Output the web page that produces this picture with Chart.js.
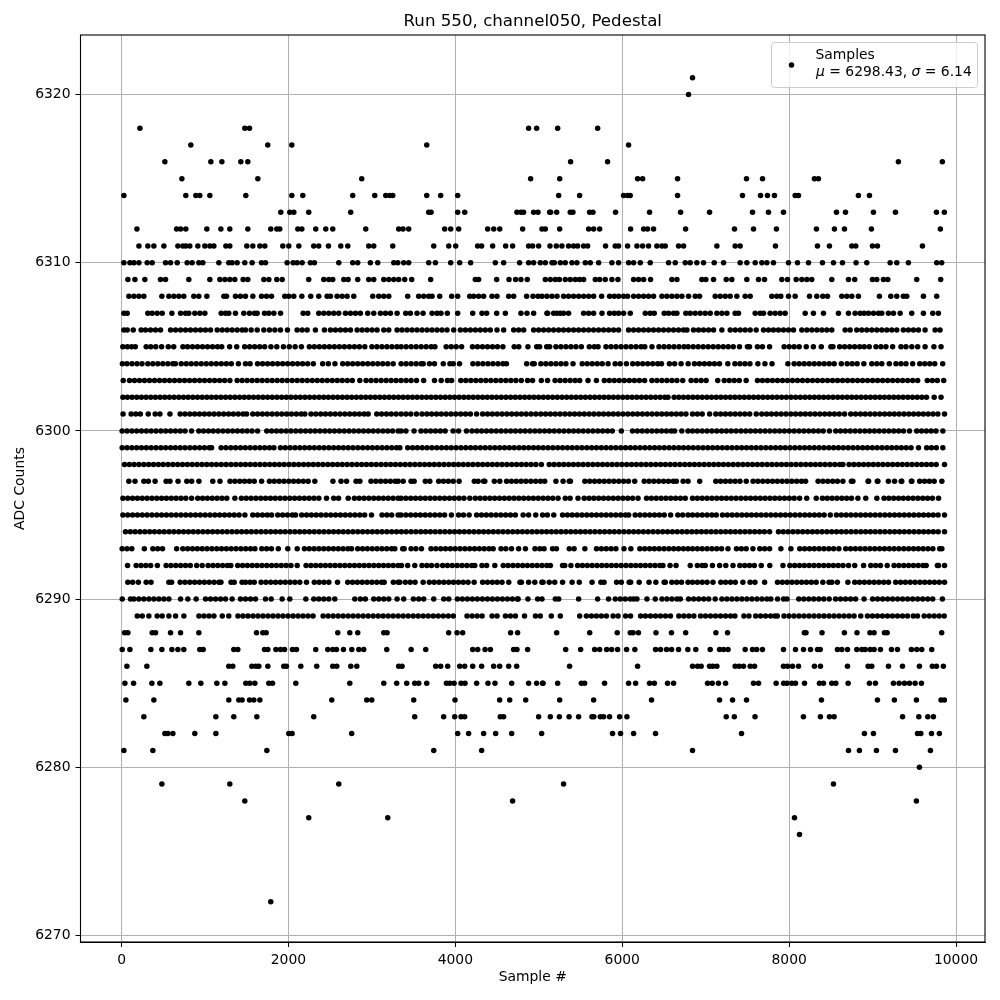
<!DOCTYPE html>
<html>
<head>
<meta charset="utf-8">
<title>Run 550, channel050, Pedestal</title>
<script src="https://cdn.jsdelivr.net/npm/chart.js@4/dist/chart.umd.min.js"></script>
<style>
  html, body { margin: 0; padding: 0; background: #fff; }
  canvas { display: block; }
</style>
</head>
<body>
<canvas id="chart" width="1000" height="1000"></canvas>
<script>
// --- Sample numbers, one list per ADC count level ---
const adc6321 = [6842];
const adc6320 = [6794];
const adc6318 = [220, 1477, 1533, 4878, 4974, 5226, 5705];
const adc6317 = [830, 1752, 2040, 3657, 6076];
const adc6316 = [519, 1070, 1202, 1429, 1513, 5381, 5824, 9309, 9836];
const adc6315 = [723, 1633, 2878, 4902, 5250, 6184, 6244, 6663, 7489, 7681, 8303, 8351];
const adc6314 = [28, 770, 890, 938, 1058, 1489, 2040, 2172, 2770, 3034, 3166, 3214, 3250, 3657, 3824, 4028, 5238, 5489, 6016, 6064, 6096, 6663, 7441, 7657, 7740, 7824, 8072, 8112, 8830, 8962];
const adc6313 = [1908, 2016, 2064, 2243, 2746, 3681, 3709, 4028, 4112, 4738, 4786, 4818, 4938, 4990, 5130, 5142, 5214, 5377, 5409, 5609, 5649, 5920, 6327, 6699, 7046, 7561, 7752, 7932, 8567, 8675, 9010, 9274, 9765, 9860];
const adc6312 = [184, 659, 707, 770, 1022, 1190, 1297, 1513, 1788, 1860, 1896, 2112, 2160, 2327, 2447, 2531, 2926, 3321, 3373, 3441, 3872, 3944, 4040, 4387, 4460, 4532, 4806, 5038, 5078, 5250, 5597, 5657, 5729, 6100, 6256, 6303, 6375, 6759, 7345, 7573, 7848, 8327, 8543, 8663, 8986, 9812];
const adc6311 = [208, 315, 387, 507, 675, 735, 770, 818, 914, 998, 1058, 1106, 1250, 1297, 1501, 1573, 1657, 1717, 1932, 2004, 2124, 2303, 2363, 2479, 2627, 2711, 2962, 3022, 3250, 3741, 3921, 4004, 4267, 4315, 4447, 4603, 4686, 4878, 4926, 4998, 5134, 5210, 5277, 5357, 5417, 5465, 5537, 5585, 5800, 5916, 5956, 6064, 6176, 6244, 6315, 6415, 6475, 6515, 6675, 6735, 7134, 7353, 7413, 7836, 8339, 8483, 8751, 8798, 8998, 9058, 9597];
const adc6310 = [28, 100, 148, 208, 307, 367, 527, 587, 667, 786, 846, 926, 974, 1166, 1285, 1325, 1385, 1477, 1565, 1677, 1725, 1984, 2056, 2104, 2164, 2263, 2311, 2603, 2770, 2830, 2982, 3070, 3262, 3310, 3381, 3441, 3681, 3761, 3944, 4052, 4183, 4479, 4579, 4770, 4878, 4938, 5018, 5078, 5158, 5186, 5258, 5317, 5397, 5457, 5557, 5617, 5717, 5876, 5956, 6076, 6136, 6216, 6335, 6555, 6635, 6755, 6814, 6894, 6974, 7102, 7214, 7413, 7493, 7593, 7673, 7733, 7812, 7992, 8100, 8232, 8399, 8531, 8639, 8802, 8930, 9210, 9290, 9429, 9768, 9828];
const adc6309 = [76, 160, 279, 467, 527, 806, 1058, 1178, 1238, 1297, 1357, 1457, 1513, 1705, 1765, 1860, 1925, 2243, 2423, 2483, 2531, 2663, 2715, 2830, 2962, 3022, 3142, 3202, 3262, 3321, 3393, 3477, 3704, 4239, 4279, 4495, 4643, 4722, 4786, 4862, 5078, 5138, 5198, 5246, 5317, 5377, 5437, 5489, 5537, 5677, 5729, 5796, 5876, 5948, 6136, 6196, 6256, 6339, 6595, 6655, 6954, 7002, 7094, 7246, 7313, 7493, 7633, 7705, 7912, 7980, 8084, 8152, 8212, 8271, 8511, 8711, 8786, 8998, 9050, 9130, 9182, 9529, 9816];
const adc6308 = [88, 148, 208, 267, 483, 567, 627, 687, 746, 866, 926, 1022, 1226, 1258, 1365, 1425, 1485, 1573, 1677, 1737, 1797, 1956, 2004, 2064, 2160, 2267, 2363, 2463, 2503, 2583, 2643, 2703, 2783, 3010, 3082, 3142, 3202, 3429, 3561, 3621, 3681, 3721, 3812, 3956, 4028, 4172, 4220, 4279, 4339, 4439, 4499, 4639, 4699, 4854, 4930, 4990, 5038, 5098, 5158, 5218, 5297, 5357, 5417, 5477, 5537, 5597, 5657, 5753, 5848, 5904, 5956, 6016, 6064, 6136, 6196, 6256, 6315, 6375, 6475, 6535, 6595, 6655, 6715, 6794, 6874, 6926, 7114, 7174, 7234, 7293, 7373, 7473, 7533, 7792, 7852, 7900, 7992, 8072, 8244, 8331, 8403, 8459, 8631, 8691, 8751, 8830, 9082, 9218, 9290, 9369, 9409, 9609, 9768];
const adc6307 = [28, 68, 315, 367, 427, 487, 603, 707, 767, 806, 878, 938, 998, 1194, 1246, 1285, 1365, 1465, 1533, 1593, 1625, 1713, 1765, 1825, 1905, 2176, 2231, 2363, 2423, 2483, 2543, 2603, 2683, 2743, 2803, 2862, 2950, 3022, 3102, 3162, 3222, 3302, 3405, 3461, 3541, 3613, 3721, 3780, 3828, 3904, 4028, 4208, 4319, 4375, 4495, 4599, 4786, 4858, 4938, 5098, 5106, 5178, 5218, 5258, 5297, 5357, 5537, 5597, 5657, 5757, 5848, 5904, 5956, 6016, 6096, 6276, 6335, 6383, 6503, 6555, 6615, 6655, 6762, 6814, 6874, 6934, 6994, 7054, 7134, 7194, 7254, 7353, 7393, 7593, 7653, 7693, 7772, 7832, 7892, 7952, 8192, 8291, 8411, 8591, 8711, 8790, 8850, 8898, 8950, 9010, 9070, 9110, 9190, 9250, 9330, 9469, 9609, 9721, 9788];
const adc6306 = [28, 68, 140, 235, 287, 347, 407, 467, 587, 647, 707, 767, 826, 886, 946, 1006, 1066, 1146, 1206, 1266, 1325, 1385, 1445, 1485, 1553, 1625, 1705, 1773, 1837, 1904, 1988, 2104, 2164, 2224, 2323, 2431, 2503, 2563, 2623, 2683, 2743, 2823, 2883, 2942, 3002, 3062, 3142, 3202, 3302, 3361, 3421, 3481, 3541, 3601, 3661, 3720, 3780, 3840, 3900, 3980, 4060, 4120, 4180, 4240, 4299, 4359, 4419, 4499, 4579, 4699, 4759, 4819, 4938, 4998, 5058, 5118, 5178, 5238, 5297, 5357, 5417, 5477, 5537, 5597, 5657, 5717, 5777, 5837, 5897, 5956, 6076, 6136, 6196, 6256, 6315, 6375, 6435, 6495, 6555, 6615, 6675, 6735, 6775, 6854, 6914, 6974, 7034, 7094, 7194, 7294, 7354, 7413, 7473, 7533, 7605, 7693, 7753, 7812, 7872, 7932, 7992, 8052, 8152, 8212, 8272, 8332, 8392, 8451, 8511, 8671, 8731, 8810, 8870, 8930, 8990, 9050, 9110, 9170, 9230, 9290, 9369, 9429, 9489, 9549, 9629, 9749, 9808];
const adc6305 = [15, 70, 120, 165, 295, 350, 410, 480, 560, 625, 735, 790, 850, 910, 970, 1030, 1090, 1150, 1200, 1295, 1380, 1475, 1535, 1595, 1655, 1715, 1790, 1860, 1940, 2010, 2080, 2155, 2250, 2310, 2370, 2430, 2490, 2550, 2610, 2670, 2730, 2790, 2850, 2915, 3000, 3060, 3120, 3180, 3240, 3300, 3350, 3410, 3470, 3530, 3590, 3650, 3710, 3755, 3890, 3950, 4010, 4075, 4205, 4265, 4325, 4385, 4445, 4505, 4570, 4705, 4760, 4870, 4975, 5010, 5095, 5130, 5205, 5265, 5325, 5385, 5445, 5510, 5605, 5665, 5710, 5805, 5865, 5925, 5985, 6045, 6105, 6165, 6225, 6270, 6356, 6440, 6500, 6560, 6620, 6680, 6740, 6790, 6850, 6910, 6970, 7030, 7090, 7150, 7210, 7270, 7330, 7405, 7500, 7525, 7620, 7680, 7765, 7940, 8000, 8060, 8120, 8205, 8290, 8385, 8500, 8525, 8605, 8665, 8725, 8785, 8845, 8900, 8960, 9040, 9100, 9160, 9240, 9340, 9400, 9470, 9540, 9629, 9735, 9820];
const adc6304 = [10, 65, 125, 185, 245, 315, 375, 435, 495, 555, 615, 645, 715, 775, 835, 895, 955, 1015, 1075, 1135, 1195, 1255, 1315, 1400, 1485, 1540, 1630, 1690, 1750, 1810, 1870, 1930, 1990, 2050, 2110, 2170, 2230, 2298, 2410, 2478, 2557, 2650, 2710, 2770, 2830, 2890, 2950, 3010, 3070, 3130, 3190, 3255, 3350, 3410, 3470, 3530, 3590, 3615, 3690, 3750, 3855, 3935, 3975, 4050, 4210, 4270, 4330, 4390, 4450, 4510, 4570, 4612, 4855, 4925, 4945, 5025, 5085, 5145, 5205, 5265, 5325, 5410, 5520, 5580, 5640, 5700, 5760, 5830, 5915, 5975, 6050, 6125, 6185, 6245, 6305, 6365, 6425, 6470, 6565, 6628, 6705, 6790, 6865, 6925, 6985, 7045, 7105, 7165, 7265, 7350, 7410, 7470, 7530, 7625, 7710, 7795, 7985, 8060, 8120, 8180, 8240, 8300, 8360, 8420, 8480, 8540, 8625, 8695, 8755, 8815, 8895, 8990, 9050, 9110, 9200, 9280, 9340, 9400, 9480, 9565, 9625, 9685, 9745, 9840];
const adc6303 = [20, 95, 155, 215, 275, 335, 395, 455, 515, 575, 635, 695, 755, 815, 875, 935, 995, 1055, 1115, 1175, 1235, 1298, 1385, 1445, 1505, 1565, 1625, 1685, 1745, 1805, 1865, 1925, 1985, 2045, 2105, 2165, 2225, 2285, 2345, 2405, 2465, 2525, 2585, 2645, 2705, 2765, 2855, 2930, 2990, 3050, 3110, 3170, 3230, 3290, 3350, 3410, 3470, 3535, 3620, 3750, 3830, 3905, 3955, 4065, 4125, 4185, 4245, 4305, 4365, 4425, 4485, 4545, 4605, 4665, 4725, 4790, 4865, 4925, 5030, 5105, 5195, 5255, 5315, 5375, 5435, 5490, 5590, 5690, 5785, 5845, 5905, 5965, 6025, 6085, 6145, 6205, 6268, 6355, 6415, 6475, 6535, 6595, 6655, 6725, 6825, 6885, 6945, 7005, 7144, 7222, 7282, 7342, 7402, 7485, 7620, 7680, 7740, 7800, 7860, 7920, 7980, 8040, 8100, 8160, 8220, 8280, 8340, 8400, 8460, 8520, 8580, 8640, 8700, 8760, 8820, 8880, 8940, 9000, 9060, 9120, 9180, 9240, 9300, 9360, 9420, 9480, 9540, 9656, 9716, 9776, 9852];
const adc6302 = [16, 70, 126, 182, 238, 294, 350, 406, 462, 518, 574, 630, 686, 742, 798, 854, 910, 966, 1022, 1078, 1134, 1190, 1246, 1302, 1358, 1414, 1470, 1526, 1582, 1638, 1694, 1750, 1806, 1862, 1918, 1974, 2030, 2086, 2142, 2198, 2254, 2310, 2366, 2422, 2478, 2534, 2590, 2646, 2702, 2758, 2814, 2870, 2926, 2982, 3038, 3094, 3150, 3206, 3262, 3318, 3374, 3430, 3486, 3542, 3598, 3654, 3710, 3766, 3822, 3878, 3934, 3990, 4046, 4102, 4158, 4214, 4270, 4326, 4382, 4438, 4494, 4550, 4606, 4662, 4718, 4774, 4830, 4886, 4942, 4998, 5054, 5110, 5166, 5222, 5278, 5334, 5390, 5446, 5502, 5558, 5614, 5670, 5726, 5782, 5838, 5894, 5950, 6006, 6062, 6118, 6174, 6230, 6286, 6342, 6398, 6454, 6510, 6548, 6622, 6678, 6734, 6790, 6846, 6902, 6958, 7014, 7070, 7126, 7182, 7238, 7294, 7350, 7406, 7462, 7518, 7574, 7630, 7686, 7742, 7798, 7854, 7910, 7966, 8022, 8078, 8134, 8190, 8246, 8302, 8358, 8414, 8470, 8526, 8582, 8638, 8694, 8750, 8806, 8862, 8918, 8974, 9030, 9086, 9142, 9198, 9254, 9310, 9366, 9422, 9478, 9534, 9590, 9646, 9738, 9820];
const adc6301 = [18, 115, 170, 225, 320, 403, 460, 580, 702, 760, 818, 876, 934, 992, 1050, 1108, 1166, 1224, 1282, 1340, 1398, 1456, 1498, 1572, 1630, 1688, 1746, 1804, 1862, 1920, 1978, 2036, 2094, 2152, 2196, 2270, 2328, 2386, 2444, 2502, 2560, 2618, 2676, 2734, 2792, 2850, 2908, 2955, 3058, 3116, 3174, 3232, 3290, 3350, 3408, 3466, 3534, 3600, 3658, 3716, 3774, 3832, 3890, 3948, 4006, 4064, 4122, 4180, 4255, 4327, 4385, 4443, 4501, 4559, 4617, 4675, 4733, 4791, 4849, 4907, 4965, 5023, 5081, 5139, 5197, 5255, 5313, 5371, 5429, 5487, 5545, 5603, 5661, 5719, 5777, 5835, 5893, 5951, 6009, 6067, 6125, 6183, 6241, 6299, 6357, 6415, 6473, 6531, 6589, 6647, 6705, 6763, 6842, 6900, 6958, 7047, 7121, 7179, 7237, 7295, 7353, 7411, 7469, 7527, 7606, 7672, 7730, 7788, 7846, 7904, 7962, 8020, 8078, 8136, 8194, 8252, 8310, 8368, 8426, 8484, 8542, 8600, 8664, 8738, 8796, 8854, 8912, 8970, 9028, 9086, 9144, 9202, 9260, 9318, 9376, 9434, 9492, 9550, 9608, 9666, 9724, 9782, 9862];
const adc6300 = [7, 65, 123, 181, 239, 297, 355, 413, 471, 529, 587, 645, 703, 761, 839, 925, 983, 1041, 1099, 1157, 1215, 1273, 1331, 1389, 1447, 1505, 1563, 1630, 1740, 1798, 1856, 1914, 1972, 2030, 2088, 2146, 2204, 2262, 2320, 2378, 2436, 2494, 2552, 2610, 2668, 2726, 2784, 2842, 2900, 2958, 3016, 3074, 3132, 3190, 3248, 3314, 3350, 3408, 3505, 3588, 3646, 3704, 3762, 3820, 3878, 3973, 4039, 4133, 4199, 4257, 4315, 4373, 4431, 4489, 4547, 4605, 4663, 4721, 4779, 4837, 4895, 4953, 5011, 5069, 5127, 5185, 5243, 5301, 5359, 5417, 5475, 5533, 5591, 5649, 5707, 5765, 5823, 5881, 5989, 6123, 6181, 6239, 6297, 6355, 6413, 6471, 6529, 6587, 6628, 6714, 6788, 6842, 6900, 6958, 7016, 7074, 7132, 7190, 7248, 7306, 7364, 7422, 7480, 7538, 7596, 7654, 7712, 7770, 7828, 7886, 7944, 8002, 8060, 8118, 8176, 8234, 8292, 8350, 8408, 8483, 8558, 8616, 8674, 8732, 8790, 8848, 8906, 8964, 9022, 9080, 9138, 9196, 9254, 9312, 9370, 9442, 9528, 9586, 9644, 9702, 9760, 9842];
const adc6299 = [7, 65, 123, 181, 239, 297, 355, 413, 471, 529, 587, 645, 703, 761, 819, 877, 935, 993, 1051, 1079, 1193, 1251, 1309, 1367, 1425, 1483, 1541, 1599, 1657, 1715, 1773, 1826, 1904, 1962, 2020, 2078, 2136, 2194, 2252, 2310, 2368, 2426, 2484, 2542, 2600, 2658, 2716, 2774, 2832, 2890, 2948, 3006, 3064, 3122, 3180, 3238, 3296, 3335, 3429, 3487, 3545, 3603, 3661, 3719, 3777, 3835, 3893, 3951, 4009, 4067, 4125, 4183, 4241, 4299, 4357, 4415, 4473, 4531, 4589, 4647, 4705, 4763, 4821, 4879, 4937, 4995, 5053, 5111, 5169, 5227, 5285, 5343, 5401, 5459, 5517, 5575, 5633, 5691, 5749, 5807, 5865, 5923, 5981, 6039, 6097, 6155, 6213, 6271, 6329, 6387, 6445, 6503, 6561, 6619, 6677, 6735, 6793, 6851, 6909, 6967, 7025, 7083, 7141, 7199, 7257, 7315, 7373, 7431, 7489, 7547, 7605, 7663, 7721, 7779, 7837, 7895, 7953, 8011, 8069, 8127, 8185, 8243, 8301, 8359, 8417, 8475, 8533, 8591, 8649, 8707, 8765, 8823, 8881, 8939, 8997, 9055, 9113, 9171, 9229, 9287, 9345, 9403, 9461, 9550, 9648, 9706, 9764, 9842];
const adc6298 = [35, 93, 151, 209, 267, 325, 383, 441, 499, 557, 615, 673, 731, 789, 847, 905, 963, 1021, 1079, 1137, 1195, 1253, 1311, 1369, 1427, 1485, 1543, 1601, 1659, 1717, 1775, 1833, 1891, 1949, 2007, 2065, 2123, 2181, 2239, 2297, 2355, 2413, 2471, 2529, 2587, 2645, 2703, 2761, 2819, 2877, 2935, 2993, 3051, 3109, 3167, 3225, 3283, 3341, 3399, 3457, 3515, 3573, 3631, 3689, 3747, 3805, 3863, 3921, 3979, 4037, 4095, 4153, 4211, 4269, 4327, 4385, 4443, 4501, 4559, 4617, 4675, 4733, 4791, 4849, 4907, 4965, 5031, 5125, 5183, 5241, 5299, 5357, 5415, 5473, 5531, 5589, 5647, 5705, 5763, 5821, 5879, 5937, 5995, 6053, 6111, 6169, 6227, 6285, 6343, 6401, 6459, 6517, 6575, 6633, 6691, 6749, 6807, 6865, 6923, 6981, 7039, 7097, 7155, 7213, 7271, 7329, 7387, 7445, 7503, 7561, 7619, 7677, 7735, 7793, 7851, 7909, 7967, 8025, 8083, 8141, 8199, 8257, 8315, 8373, 8431, 8489, 8547, 8605, 8644, 8718, 8776, 8834, 8892, 8950, 9008, 9066, 9124, 9182, 9240, 9298, 9356, 9414, 9472, 9530, 9588, 9646, 9704, 9762, 9862];
const adc6297 = [87, 161, 267, 321, 402, 534, 580, 677, 782, 840, 927, 1093, 1179, 1300, 1358, 1416, 1474, 1532, 1590, 1678, 1772, 1830, 1888, 1946, 2004, 2062, 2120, 2178, 2236, 2316, 2533, 2630, 2696, 2810, 2856, 2989, 3047, 3105, 3163, 3221, 3279, 3314, 3375, 3469, 3506, 3640, 3694, 3800, 3858, 3916, 3974, 4045, 4227, 4273, 4339, 4353, 4467, 4533, 4614, 4672, 4730, 4788, 4846, 4904, 4962, 5020, 5071, 5205, 5291, 5365, 5379, 5552, 5610, 5668, 5726, 5784, 5842, 5900, 5958, 6016, 6074, 6149, 6263, 6321, 6379, 6437, 6495, 6553, 6611, 6648, 6730, 6788, 6928, 7121, 7179, 7237, 7295, 7353, 7411, 7486, 7568, 7626, 7684, 7742, 7800, 7858, 7916, 7974, 8032, 8090, 8148, 8197, 8347, 8405, 8463, 8521, 8579, 8644, 8746, 8764, 8946, 8952, 9057, 9063, 9189, 9263, 9349, 9343, 9465, 9470, 9564, 9622, 9680, 9738, 9830];
const adc6296 = [16, 74, 132, 190, 248, 306, 364, 422, 480, 538, 596, 654, 712, 770, 839, 913, 971, 1029, 1087, 1145, 1203, 1261, 1358, 1436, 1494, 1552, 1610, 1668, 1726, 1784, 1842, 1900, 1958, 2016, 2074, 2132, 2190, 2248, 2306, 2364, 2456, 2542, 2600, 2716, 2790, 2848, 2906, 2964, 3022, 3080, 3138, 3196, 3254, 3314, 3349, 3407, 3465, 3523, 3581, 3639, 3697, 3755, 3813, 3871, 3929, 3987, 4045, 4103, 4173, 4239, 4297, 4355, 4413, 4471, 4529, 4587, 4645, 4703, 4761, 4819, 4877, 4935, 4993, 5051, 5109, 5167, 5231, 5317, 5375, 5470, 5544, 5602, 5660, 5718, 5776, 5834, 5892, 5950, 6008, 6066, 6124, 6189, 6291, 6349, 6407, 6465, 6523, 6581, 6639, 6697, 6755, 6842, 6900, 6958, 7016, 7074, 7132, 7190, 7248, 7306, 7364, 7422, 7480, 7538, 7596, 7654, 7712, 7770, 7828, 7886, 7944, 8002, 8060, 8125, 8211, 8325, 8399, 8457, 8515, 8573, 8631, 8689, 8747, 8824, 8918, 9051, 9137, 9195, 9253, 9311, 9369, 9427, 9485, 9543, 9601, 9659, 9717, 9790];
const adc6295 = [16, 74, 132, 190, 248, 306, 364, 422, 480, 538, 596, 654, 712, 770, 828, 886, 944, 1002, 1060, 1118, 1176, 1234, 1292, 1350, 1408, 1478, 1572, 1630, 1688, 1746, 1798, 1872, 1930, 1988, 2046, 2085, 2159, 2217, 2275, 2333, 2391, 2449, 2507, 2565, 2623, 2681, 2739, 2797, 2855, 2913, 2995, 3121, 3179, 3237, 3314, 3349, 3407, 3465, 3523, 3581, 3639, 3697, 3755, 3813, 3871, 3953, 4039, 4097, 4165, 4255, 4313, 4371, 4429, 4487, 4545, 4603, 4661, 4719, 4812, 4878, 4963, 5045, 5103, 5179, 5285, 5343, 5401, 5459, 5517, 5575, 5633, 5691, 5749, 5807, 5865, 5923, 5981, 6039, 6077, 6155, 6213, 6271, 6329, 6387, 6445, 6503, 6580, 6666, 6724, 6788, 6842, 6900, 6958, 7016, 7074, 7127, 7201, 7259, 7317, 7375, 7433, 7491, 7549, 7607, 7665, 7723, 7781, 7839, 7897, 7955, 8013, 8071, 8129, 8187, 8245, 8303, 8361, 8419, 8493, 8567, 8625, 8683, 8741, 8799, 8857, 8915, 8973, 9031, 9089, 9147, 9205, 9263, 9321, 9379, 9437, 9495, 9553, 9611, 9669, 9727, 9785, 9862];
const adc6294 = [47, 105, 163, 221, 279, 337, 395, 453, 511, 569, 627, 685, 743, 801, 859, 917, 975, 1033, 1091, 1149, 1207, 1265, 1323, 1381, 1439, 1497, 1555, 1613, 1671, 1729, 1787, 1845, 1903, 1961, 2019, 2077, 2135, 2193, 2251, 2309, 2367, 2425, 2483, 2541, 2599, 2657, 2715, 2773, 2831, 2889, 2947, 3005, 3063, 3121, 3179, 3237, 3295, 3353, 3411, 3469, 3527, 3585, 3643, 3701, 3759, 3817, 3875, 3933, 3991, 4049, 4107, 4165, 4223, 4281, 4339, 4397, 4455, 4513, 4571, 4629, 4687, 4745, 4803, 4861, 4919, 4977, 5035, 5093, 5151, 5209, 5267, 5325, 5383, 5441, 5499, 5557, 5615, 5673, 5731, 5789, 5847, 5905, 5963, 6021, 6079, 6137, 6195, 6253, 6311, 6369, 6427, 6485, 6543, 6601, 6659, 6717, 6775, 6833, 6891, 6949, 7007, 7065, 7123, 7181, 7239, 7297, 7355, 7413, 7471, 7529, 7587, 7645, 7703, 7766, 7872, 7930, 7988, 8046, 8104, 8162, 8220, 8278, 8336, 8394, 8452, 8510, 8568, 8626, 8684, 8742, 8800, 8858, 8916, 8974, 9032, 9090, 9148, 9206, 9264, 9322, 9380, 9438, 9496, 9554, 9612, 9670, 9728, 9786, 9862];
const adc6293 = [7, 65, 123, 273, 375, 433, 491, 660, 734, 792, 850, 908, 966, 1024, 1082, 1140, 1198, 1256, 1314, 1372, 1430, 1488, 1546, 1598, 1680, 1738, 1796, 1878, 1992, 2105, 2191, 2249, 2307, 2365, 2423, 2481, 2539, 2597, 2655, 2713, 2756, 2830, 2888, 2946, 3004, 3062, 3120, 3178, 3236, 3274, 3369, 3387, 3469, 3527, 3594, 3708, 3766, 3824, 3882, 3940, 3998, 4056, 4114, 4172, 4230, 4288, 4346, 4404, 4453, 4547, 4605, 4673, 4758, 4840, 4954, 5012, 5063, 5165, 5211, 5365, 5423, 5552, 5692, 5750, 5808, 5866, 5924, 6021, 6103, 6211, 6269, 6327, 6385, 6443, 6501, 6559, 6617, 6675, 6733, 6788, 6842, 6900, 6958, 7016, 7074, 7132, 7190, 7267, 7369, 7427, 7485, 7566, 7648, 7706, 7766, 7901, 8021, 8127, 8185, 8243, 8301, 8359, 8417, 8475, 8533, 8596, 8678, 8736, 8794, 8852, 8910, 8968, 9026, 9084, 9142, 9200, 9258, 9316, 9374, 9432, 9490, 9548, 9606, 9664, 9722, 9804, 9830];
const adc6292 = [72, 175, 233, 291, 349, 429, 534, 592, 650, 708, 766, 824, 900, 966, 1037, 1095, 1153, 1211, 1269, 1310, 1392, 1450, 1508, 1566, 1624, 1682, 1740, 1798, 1856, 1914, 1972, 2030, 2105, 2211, 2269, 2327, 2385, 2443, 2501, 2559, 2617, 2675, 2733, 2791, 2849, 2907, 2965, 3023, 3081, 3139, 3197, 3255, 3314, 3355, 3429, 3514, 3600, 3658, 3714, 3780, 3848, 3906, 3964, 4022, 4080, 4138, 4196, 4233, 4319, 4375, 4473, 4574, 4632, 4690, 4748, 4806, 4864, 4922, 4980, 5038, 5096, 5139, 5285, 5311, 5385, 5465, 5523, 5581, 5639, 5697, 5755, 5813, 5871, 5929, 5987, 6045, 6103, 6161, 6219, 6277, 6335, 6393, 6451, 6488, 6573, 6645, 6815, 6900, 6958, 6995, 7081, 7167, 7241, 7327, 7409, 7467, 7525, 7583, 7666, 7768, 7926, 8008, 8066, 8124, 8182, 8240, 8298, 8356, 8414, 8472, 8530, 8588, 8646, 8712, 8786, 8892, 8978, 9036, 9094, 9175, 9257, 9315, 9373, 9431, 9489, 9547, 9605, 9642, 9776, 9790, 9862];
const adc6291 = [75, 133, 201, 295, 353, 567, 600, 702, 760, 818, 876, 934, 992, 1050, 1108, 1166, 1191, 1312, 1350, 1444, 1486, 1540, 1590, 1672, 1730, 1788, 1846, 1904, 1962, 2020, 2078, 2136, 2216, 2310, 2368, 2426, 2484, 2588, 2710, 2768, 2826, 2884, 2942, 3000, 3058, 3116, 3147, 3257, 3315, 3335, 3401, 3459, 3517, 3614, 3688, 3746, 3804, 3862, 3920, 3978, 4036, 4094, 4152, 4225, 4327, 4385, 4443, 4501, 4559, 4640, 4774, 4792, 4878, 4952, 5037, 5051, 5125, 5191, 5285, 5399, 5485, 5638, 5744, 5782, 5932, 5989, 6083, 6101, 6203, 6321, 6403, 6502, 6516, 6594, 6652, 6710, 6788, 6842, 6900, 6958, 7016, 7087, 7181, 7239, 7297, 7355, 7446, 7532, 7590, 7706, 7860, 7918, 7976, 8034, 8092, 8150, 8208, 8266, 8324, 8404, 8478, 8512, 8578, 8704, 8786, 8844, 8902, 8960, 9018, 9076, 9134, 9191, 9277, 9335, 9393, 9451, 9509, 9567, 9625, 9683, 9741, 9799, 9862];
const adc6290 = [8, 107, 148, 207, 267, 327, 387, 447, 507, 567, 707, 794, 894, 1006, 1066, 1126, 1186, 1246, 1325, 1425, 1485, 1545, 1605, 1725, 1793, 1924, 2016, 2208, 2303, 2363, 2423, 2483, 2555, 2795, 2862, 2922, 3022, 3082, 3142, 3202, 3302, 3381, 3497, 3561, 3621, 3741, 3861, 3921, 4024, 4084, 4144, 4204, 4264, 4324, 4384, 4444, 4504, 4564, 4624, 4684, 4744, 4752, 4870, 4986, 5038, 5198, 5238, 5477, 5705, 5836, 5916, 5976, 6036, 6096, 6136, 6176, 6296, 6396, 6476, 6536, 6596, 6656, 6696, 6795, 6856, 6916, 6976, 7036, 7114, 7194, 7254, 7314, 7374, 7434, 7494, 7554, 7614, 7674, 7734, 7781, 7861, 7933, 7974, 8115, 8175, 8235, 8295, 8355, 8415, 8480, 8556, 8616, 8676, 8736, 8796, 8898, 9000, 9060, 9120, 9180, 9240, 9300, 9360, 9420, 9480, 9540, 9600, 9660, 9720, 9836];
const adc6289 = [188, 248, 327, 427, 487, 567, 647, 747, 927, 987, 1047, 1107, 1207, 1285, 1395, 1455, 1515, 1575, 1635, 1695, 1755, 1815, 1875, 1935, 1995, 2055, 2115, 2175, 2235, 2295, 2415, 2475, 2535, 2595, 2655, 2715, 2775, 2835, 2895, 2955, 3015, 3075, 3135, 3195, 3255, 3315, 3375, 3435, 3495, 3555, 3615, 3675, 3735, 3795, 3855, 3915, 3975, 4140, 4200, 4260, 4320, 4440, 4500, 4600, 4660, 4720, 4829, 4960, 5018, 5150, 5258, 5490, 5570, 5630, 5690, 5750, 5810, 5890, 5950, 6040, 6100, 6220, 6278, 6338, 6398, 6458, 6518, 6578, 6678, 6738, 6798, 6858, 6938, 6998, 7058, 7118, 7178, 7238, 7298, 7350, 7458, 7518, 7598, 7658, 7718, 7778, 7830, 7858, 7938, 7998, 8058, 8118, 8178, 8238, 8298, 8358, 8418, 8478, 8538, 8598, 8658, 8718, 8778, 8858, 8938, 8998, 9058, 9118, 9178, 9238, 9298, 9358, 9418, 9488, 9538, 9618, 9678, 9738, 9798, 9858];
const adc6288 = [36, 76, 367, 407, 587, 707, 926, 1617, 1693, 1733, 2591, 2735, 2830, 3142, 3182, 3920, 4020, 4088, 4662, 4746, 5214, 5610, 5940, 6096, 6130, 6194, 6404, 6590, 6760, 7122, 7262, 8182, 8202, 8394, 8662, 8813, 8968, 9018, 9142, 9175, 9828];
const adc6287 = [8, 100, 351, 483, 603, 675, 746, 938, 978, 1345, 1393, 1713, 1753, 1849, 1905, 1953, 2048, 2096, 2327, 2471, 2531, 2575, 2659, 2759, 2843, 2902, 3178, 3470, 3645, 4208, 4268, 4356, 4420, 4698, 4738, 4866, 5322, 5501, 5669, 5729, 5813, 5873, 5944, 6052, 6151, 6399, 6459, 6531, 6591, 6675, 6786, 6881, 7054, 7166, 7214, 7268, 7473, 7561, 7611, 7680, 7932, 8076, 8172, 8256, 8340, 8372, 8579, 8631, 8699, 8811, 8871, 8911, 8971, 9018, 9094, 9226, 9298, 9465, 9529, 9589, 9709];
const adc6286 = [64, 303, 1285, 1333, 1561, 1609, 1645, 1753, 1944, 1976, 2148, 2339, 2531, 2579, 2747, 2819, 3321, 3361, 3764, 3824, 3908, 4052, 4112, 4208, 4315, 4459, 4531, 4639, 4735, 5369, 6184, 6842, 6902, 6946, 7046, 7086, 7134, 7353, 7401, 7453, 7533, 7585, 7932, 7980, 8040, 8112, 8303, 8375, 8699, 8946, 8990, 9190, 9358, 9561, 9716, 9765, 9848];
const adc6285 = [40, 144, 363, 459, 806, 950, 1142, 1238, 1489, 1537, 1597, 1765, 1809, 2088, 2735, 3142, 3297, 3417, 3513, 3561, 3657, 3893, 3933, 3985, 4068, 4116, 4255, 4391, 4475, 4675, 4878, 4974, 5046, 5050, 5226, 5510, 5549, 5788, 6076, 6160, 6327, 6385, 6543, 6615, 7022, 7078, 7153, 7238, 7573, 7633, 7844, 7934, 7974, 8032, 8076, 8184, 8363, 8411, 8511, 8559, 8707, 8962, 9034, 9250, 9318, 9382, 9442, 9509, 9585];
const adc6284 = [52, 387, 1285, 1405, 1445, 1533, 1585, 1657, 2519, 2938, 2998, 3501, 3996, 4531, 4651, 4843, 5250, 5657, 6351, 7166, 7322, 7489, 8387, 9058, 9261, 9525, 9820, 9860];
const adc6283 = [267, 1130, 1345, 1621, 2303, 3513, 3860, 3992, 4068, 4112, 4538, 4578, 4998, 5138, 5246, 5363, 5477, 5637, 5660, 5737, 5777, 5848, 5968, 6056, 7246, 7343, 7591, 8171, 8375, 8483, 8539, 9359, 9554, 9661, 9729];
const adc6282 = [519, 555, 615, 878, 1130, 2004, 2044, 2758, 4028, 4159, 4339, 4483, 4675, 5034, 5884, 5980, 6136, 6399, 7429, 8902, 9010, 9538, 9578, 9706, 9800];
const adc6281 = [28, 375, 1741, 3741, 4315, 6842, 8711, 8842, 9046, 9274, 9693];
const adc6280 = [9561];
const adc6279 = [483, 1297, 2603, 5297, 8531];
const adc6278 = [1477, 4686, 9525];
const adc6277 = [2243, 3190, 8064];
const adc6276 = [8124];
const adc6272 = [1788];

const levels = [
  [6321, adc6321], [6320, adc6320], [6318, adc6318], [6317, adc6317], [6316, adc6316], [6315, adc6315],
  [6314, adc6314], [6313, adc6313], [6312, adc6312], [6311, adc6311], [6310, adc6310], [6309, adc6309],
  [6308, adc6308], [6307, adc6307], [6306, adc6306], [6305, adc6305], [6304, adc6304], [6303, adc6303],
  [6302, adc6302], [6301, adc6301], [6300, adc6300], [6299, adc6299], [6298, adc6298], [6297, adc6297],
  [6296, adc6296], [6295, adc6295], [6294, adc6294], [6293, adc6293], [6292, adc6292], [6291, adc6291],
  [6290, adc6290], [6289, adc6289], [6288, adc6288], [6287, adc6287], [6286, adc6286], [6285, adc6285],
  [6284, adc6284], [6283, adc6283], [6282, adc6282], [6281, adc6281], [6280, adc6280], [6279, adc6279],
  [6278, adc6278], [6277, adc6277], [6276, adc6276], [6272, adc6272]
];

const xTicks = [0, 2000, 4000, 6000, 8000, 10000];
const yTicks = [6270, 6280, 6290, 6300, 6310, 6320];
const titleText = "Run 550, channel050, Pedestal";
const muText = "6298.43";
const sigmaText = "6.14";

const FONT = '"DejaVu Sans"';
const GRID = "#b0b0b0";

const points = [];
levels.forEach(([adc, samples]) => samples.forEach((s) => points.push({ x: s, y: adc })));

// Frame on all four sides, drawn above the dots like the reference.
const framePlugin = {
  id: "frame",
  afterDatasetsDraw(chart) {
    const { ctx, chartArea: a } = chart;
    ctx.save();
    ctx.strokeStyle = "#000";
    ctx.lineWidth = 1.1;
    ctx.strokeRect(a.left, a.top, a.right - a.left, a.bottom - a.top);
    ctx.restore();
  }
};

// Legend sits inside the axes, so it is drawn here rather than by the stock legend.
const legendPlugin = {
  id: "insideLegend",
  afterDraw(chart) {
    const { ctx } = chart;
    const x = 771.5, y = 42.5, w = 206, h = 45;
    ctx.save();
    ctx.beginPath();
    ctx.roundRect(x, y, w, h, 3);
    ctx.fillStyle = "rgba(255,255,255,0.8)";
    ctx.fill();
    ctx.strokeStyle = "#cccccc";
    ctx.lineWidth = 1;
    ctx.stroke();

    ctx.fillStyle = "#000";
    ctx.beginPath();
    ctx.arc(791.5, 65, 2.75, 0, Math.PI * 2);
    ctx.fill();

    ctx.textBaseline = "alphabetic";
    ctx.textAlign = "left";
    ctx.font = `13.9px ${FONT}`;
    ctx.fillText("Samples", 815.5, 59);

    // second line mixes oblique symbols and upright text
    let tx = 816;
    const parts = [["μ", true], [` = ${muText}, `, false], ["σ", true], [` = ${sigmaText}`, false]];
    parts.forEach(([txt, italic]) => {
      ctx.font = `${italic ? "italic " : ""}13.9px ${FONT}`;
      ctx.fillText(txt, tx, 76);
      tx += ctx.measureText(txt).width;
    });
    ctx.restore();
  }
};

new Chart(document.getElementById("chart"), {
  type: "scatter",
  data: {
    datasets: [{
      label: "Samples",
      data: points,
      backgroundColor: "#000",
      borderWidth: 0,
      pointRadius: 2.75,
      pointHoverRadius: 2.75
    }]
  },
  options: {
    responsive: false,
    animation: false,
    events: [],
    layout: { padding: { left: 0, right: 15, top: 0, bottom: 0 } },
    scales: {
      x: {
        type: "linear",
        min: -492,
        max: 10347,
        afterFit: (s) => { s.height = 58; },
        afterBuildTicks: (s) => { s.ticks = xTicks.map((v) => ({ value: v })); },
        grid: { color: GRID, lineWidth: 1, tickColor: "#000", tickLength: 5, tickWidth: 1 },
        border: { color: "#000", width: 1 },
        ticks: {
          color: "#000", padding: 5, maxRotation: 0, autoSkip: false,
          font: { family: FONT, size: 13.9 },
          callback: (v) => String(v)
        },
        title: {
          display: true, text: "Sample #", color: "#000",
          font: { family: FONT, size: 13.9 }, padding: { top: 0, bottom: 14 }
        }
      },
      y: {
        type: "linear",
        min: 6269.61,
        max: 6323.54,
        afterFit: (s) => { s.width = 80.5; },
        afterBuildTicks: (s) => { s.ticks = yTicks.map((v) => ({ value: v })); },
        grid: { color: GRID, lineWidth: 1, tickColor: "#000", tickLength: 5, tickWidth: 1 },
        border: { color: "#000", width: 1 },
        ticks: {
          color: "#000", padding: 5, autoSkip: false,
          font: { family: FONT, size: 13.9 },
          callback: (v) => String(v)
        },
        title: {
          display: true, text: "ADC Counts", color: "#000",
          font: { family: FONT, size: 13.9 }, padding: { top: 12, bottom: 0 }
        }
      }
    },
    plugins: {
      legend: { display: false },
      tooltip: { enabled: false },
      title: {
        display: true, text: titleText, color: "#000", fullSize: false,
        font: { family: FONT, size: 16.67, weight: "normal" },
        padding: { top: 12, bottom: 3 }
      }
    }
  },
  plugins: [framePlugin, legendPlugin]
});
</script>
</body>
</html>
